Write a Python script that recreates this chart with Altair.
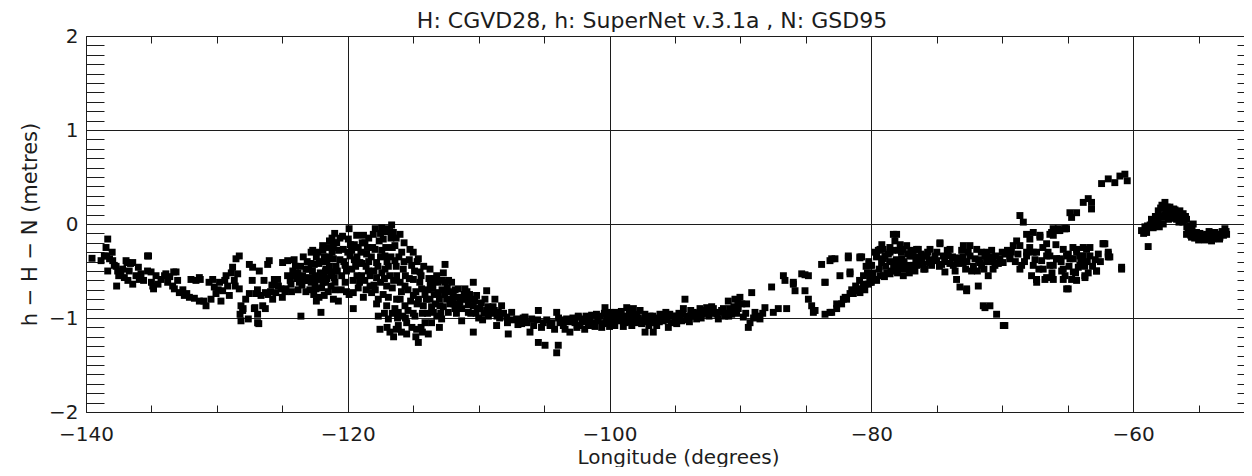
import altair as alt
import pandas as pd

# ---- data: (longitude in degrees, h - H - N in metres) ----
pacific = [(-139.54,-0.365),(-138.85,-0.39),(-138.34,-0.16),(-138.47,-0.25),(-138.6,-0.34),(-138.2,-0.37),
    (-138.34,-0.50),(-137.96,-0.39),(-137.84,-0.44),(-137.58,-0.50),(-137.66,-0.66),(-137.33,-0.53),
    (-137.07,-0.57),(-136.94,-0.39),(-136.43,-0.41),(-136.8,-0.60),(-136.7,-0.50),(-136.43,-0.64),
    (-136.18,-0.55),(-135.93,-0.59),(-135.8,-0.53),(-135.3,-0.34),(-135.3,-0.50),(-135.03,-0.51),
    (-134.9,-0.66),(-134.65,-0.55),(-134.27,-0.59),(-133.9,-0.53),(-133.76,-0.62),(-133.38,-0.66),
    (-133.12,-0.51),(-133.25,-0.69),(-132.87,-0.73),(-132.49,-0.76),(-132.1,-0.78),(-131.72,-0.79),
    (-131.34,-0.82),(-131.98,-0.59),(-131.34,-0.57),(-130.83,-0.87),(-130.45,-0.80),(-130.32,-0.59),
    (-130.2,-0.67),(-130.07,-0.74),(-129.8,-0.62),(-129.69,-0.82),(-129.56,-0.71),(-129.3,-0.55),
    (-129.18,-0.66),(-129.05,-0.76),(-128.8,-0.46),(-128.67,-0.60),(-128.54,-0.37),(-128.29,-0.34),
    (-128.41,-0.53),(-128.29,-0.69),(-128.16,-0.87),(-128.23,-0.96),(-128.16,-1.03),(-128.03,-0.92),
    (-138.0,-0.30),(-137.7,-0.45),(-137.2,-0.48),(-136.6,-0.42),(-136.0,-0.46),(-135.6,-0.60),
    (-135.0,-0.62),(-134.5,-0.64),(-134.0,-0.55),(-133.6,-0.56),(-133.0,-0.60),(-132.6,-0.70),
    (-132.3,-0.74),(-131.6,-0.60),(-131.0,-0.82),(-130.6,-0.62),(-129.9,-0.70),(-129.4,-0.60),
    (-128.9,-0.52),(-128.6,-0.66),(-138.42,-0.34),(-137.5,-0.55),(-136.87,-0.41),(-135.22,-0.34),
    (-134.84,-0.69),(-133.3,-0.51),(-131.27,-0.59)]

coast = [(-127.52,-0.43),(-127.52,-0.74),(-127.27,-0.46),(-127.14,-0.90),(-126.89,-1.05),(-126.89,-0.96),
    (-126.76,-0.50),(-126.63,-0.76),(-126.5,-0.87),(-126.12,-0.43),(-126.0,-0.39),(-125.74,-0.80),
    (-125.61,-0.59),(-125.36,-0.59),(-125.1,-0.69),(-124.98,-0.41),(-124.59,-0.39),(-124.72,-0.69),
    (-124.34,-0.64),(-124.08,-0.55),(-123.7,-0.62),(-123.58,-0.98),(-123.45,-0.55),(-123.2,-0.48),
    (-122.94,-0.57),(-122.68,-0.28),(-122.56,-0.43),(-122.43,-0.69),(-122.17,-0.59),(-122.05,-0.94),
    (-121.92,-0.23),(-121.8,-0.76),(-121.66,-0.48),(-121.41,-0.35),(-121.28,-0.66),(-121.03,-0.57),
    (-121.03,-0.20),(-124.0,-0.45),(-123.5,-0.65),(-123.0,-0.48),(-122.8,-0.62),(-122.5,-0.55),
    (-122.2,-0.42),(-122.0,-0.68),(-121.8,-0.35),(-121.6,-0.58),(-121.4,-0.45),(-121.2,-0.30),
    (-121.0,-0.70),(-122.6,-0.75),(-123.2,-0.72),(-121.5,-0.25),(-123.8,-0.70),(-124.4,-0.60),
    (-122.3,-0.30),(-121.7,-0.50),(-127.0,-0.74),(-126.3,-0.73),(-125.9,-0.72),(-125.5,-0.73),
    (-124.8,-0.72),(-124.2,-0.50),(-123.9,-0.58),(-123.6,-0.45),(-123.3,-0.60),(-123.1,-0.40),
    (-122.9,-0.70),(-122.7,-0.50),(-122.4,-0.35),(-122.1,-0.52),(-121.9,-0.62),(-121.6,-0.40),
    (-121.3,-0.55),(-121.1,-0.80),(-122.4,-0.82),(-121.5,-0.72),(-121.9,-0.28),(-128.0,-0.90),
    (-127.6,-1.01),(-126.8,-1.06),(-127.1,-0.89),(-126.3,-0.90),(-127.8,-0.80),(-127.3,-0.60),
    (-126.9,-0.70),(-126.4,-0.60),(-126.1,-0.75),(-125.8,-0.65),(-125.3,-0.66),(-125.0,-0.78),
    (-124.6,-0.55),(-124.3,-0.72),(-124.1,-0.38),(-123.8,-0.52),(-123.4,-0.35),(-123.0,-0.60),
    (-122.8,-0.42),(-122.6,-0.60),(-122.0,-0.40),(-121.8,-0.55)]

rockies = [(-120.85,-0.20),(-121.1,-0.37),(-121.23,-0.51),(-120.98,-0.62),(-120.72,-0.82),(-120.34,-0.27),
    (-120.21,-0.44),(-120.47,-0.55),(-119.96,-0.16),(-119.83,-0.34),(-119.7,-0.48),(-119.58,-0.73),
    (-119.58,-0.90),(-119.32,-0.12),(-119.2,-0.25),(-119.07,-0.41),(-118.94,-0.55),(-118.81,-0.78),
    (-118.69,-0.20),(-118.56,-0.32),(-118.43,-0.50),(-118.3,-0.66),(-118.18,-0.73),(-118.05,-0.11),
    (-117.92,-0.27),(-117.8,-0.41),(-117.8,-0.57),(-117.67,-0.80),(-117.67,-0.98),(-117.54,-1.12),
    (-117.41,-0.04),(-117.29,-0.16),(-117.16,-0.34),(-117.16,-0.48),(-117.03,-0.66),(-117.03,-0.87),
    (-116.9,-1.01),(-116.78,-1.15),(-116.65,-0.01),(-116.52,-0.09),(-116.4,-0.23),(-116.4,-0.39),
    (-116.27,-0.55),(-116.27,-0.80),(-116.14,-0.94),(-116.14,-1.08),(-116.01,-0.11),(-115.88,-0.30),
    (-115.76,-0.48),(-115.63,-0.66),(-115.63,-0.87),(-115.5,-1.05),(-115.5,-1.17),(-115.25,-0.27),
    (-115.12,-0.44),(-114.99,-0.59),(-114.99,-0.76),(-114.87,-0.98),(-114.74,-1.12),(-114.61,-1.26),
    (-114.61,-0.37),(-114.48,-0.51),(-114.36,-0.69),(-114.23,-0.87),(-114.1,-1.05),(-113.85,-1.17),
    (-113.72,-0.48),(-113.59,-0.62),(-113.72,-0.80),(-113.46,-0.94),(-113.21,-0.55),(-113.08,-0.73),
    (-112.96,-0.87),(-112.83,-1.01),(-112.57,-0.43),(-112.57,-0.62),(-112.45,-0.80),(-112.32,-0.94),
    (-112.07,-0.62),(-111.94,-0.76),(-111.81,-0.90),(-111.56,-0.69),(-111.43,-0.83),(-111.3,-1.03),
    (-111.05,-0.69),(-110.92,-0.80),(-110.79,-0.94),(-110.41,-0.62),(-110.41,-0.87),(-110.41,-1.15),
    (-110.16,-0.76),(-109.9,-0.90),(-109.52,-0.80),(-109.39,-0.71),(-109.26,-0.98),(-109.14,-0.90),
    (-108.76,-0.80),(-108.63,-1.08),(-108.5,-0.94),(-108.25,-0.87),(-107.86,-0.99),(-107.74,-1.17),
    (-107.48,-0.94),(-107.1,-1.01),(-106.72,-1.06),(-106.46,-0.99),(-106.08,-1.15),(-105.95,-1.01),
    (-105.44,-0.92),(-105.44,-1.26),(-105.06,-1.05),(-104.93,-1.29),(-104.55,-1.08),(-104.04,-0.94),
    (-104.04,-1.37),(-103.92,-1.29),(-103.79,-1.05),(-103.53,-1.08),(-103.28,-1.01),(-103.03,-1.15),
    (-102.64,-1.05),(-102.39,-0.98),(-121.2,-0.15),(-120.6,-0.38),(-120.9,-0.45),(-120.2,-0.62),
    (-120.0,-0.30),(-119.5,-0.22),(-119.4,-0.45),(-119.0,-0.30),(-118.8,-0.12),(-118.4,-0.40),
    (-118.0,-0.50),(-117.6,-0.18),(-117.5,-0.62),(-117.3,-0.75),(-116.8,-0.55),(-116.6,-0.25),
    (-116.0,-0.62),(-115.8,-0.98),(-116.4,-0.90),(-117.0,-1.10),(-116.5,-1.20),(-115.2,-0.82),
    (-114.8,-0.72),(-114.4,-1.10),(-113.9,-0.70),(-113.4,-0.75),(-112.8,-0.70),(-112.2,-0.85),
    (-111.7,-0.95),(-110.7,-0.75),(-110.0,-1.00),(-113.0,-1.10),(-119.9,-0.75),(-120.5,-0.70),
    (-118.6,-0.70),(-117.2,-0.95),(-121.0,-0.10),(-120.7,-0.28),(-120.4,-0.13),(-120.1,-0.50),
    (-119.8,-0.22),(-119.6,-0.60),(-119.3,-0.35),(-119.1,-0.62),(-118.9,-0.42),(-118.7,-0.60),
    (-118.5,-0.25),(-118.2,-0.35),(-118.0,-0.65),(-117.9,-0.05),(-117.7,-0.45),(-117.4,-0.28),
    (-117.2,-0.58),(-117.0,-0.40),(-116.9,-0.78),(-116.7,-0.15),(-116.6,-0.68),(-116.3,-0.45),
    (-116.2,-1.00),(-115.9,-0.72),(-115.7,-0.20),(-115.6,-0.55),(-115.4,-0.92),(-115.3,-0.38),
    (-115.1,-1.10),(-114.9,-0.50),(-114.7,-0.85),(-114.5,-0.62),(-114.3,-0.95),(-114.2,-0.45),
    (-114.0,-0.80),(-113.8,-0.58),(-113.6,-1.05),(-113.5,-0.68),(-113.3,-0.85),(-113.1,-0.62),
    (-112.9,-0.95),(-112.7,-0.52),(-112.6,-0.75),(-112.4,-0.68),(-112.1,-0.72),(-111.9,-0.85),
    (-111.6,-0.78),(-111.3,-0.90),(-111.1,-0.75),(-110.8,-0.86),(-110.6,-0.95),(-110.3,-0.82),
    (-110.1,-0.90),(-109.8,-0.84),(-109.6,-0.95),(-109.3,-0.88),(-109.0,-0.95),(-108.8,-0.92),
    (-108.4,-1.00),(-108.1,-0.95),(-107.8,-1.05),(-107.4,-1.02),(-107.0,-1.07),(-106.6,-1.00),
    (-106.3,-1.05),(-105.8,-1.08),(-105.5,-1.02),(-105.2,-1.10),(-104.8,-1.02),(-104.4,-1.05),
    (-104.2,-1.12),(-103.9,-1.00),(-103.6,-1.02),(-103.4,-1.12),(-103.1,-1.04),(-102.8,-1.00),
    (-102.5,-1.10),(-117.0,-0.05),(-116.8,-0.08),(-116.3,-0.15),(-117.5,-0.10),
    (-122.8,-0.30),(-122.5,-0.65),(-122.2,-0.78),(-121.7,-0.62),(-121.4,-0.18),(-121.1,-0.25),
    (-120.8,-0.50),(-120.6,-0.15),(-120.3,-0.40),(-120.1,-0.72),(-119.9,-0.05),(-119.7,-0.28),
    (-119.5,-0.38),(-119.3,-0.55),(-119.2,-0.68),(-118.9,-0.20),(-118.6,-0.45),(-118.4,-0.15),
    (-118.3,-0.55),(-118.1,-0.25),(-117.9,-0.70),(-117.8,-0.85),(-117.5,-0.35),(-117.4,-0.52),
    (-117.2,-0.08),(-117.1,-0.25),(-116.9,-0.45),(-116.7,-0.35),(-116.6,-0.95),(-116.5,-0.60),
    (-116.3,-1.12),(-116.1,-0.35),(-116.0,-0.80),(-115.9,-1.15),(-115.7,-0.40),(-115.6,-1.00),
    (-115.4,-0.70),(-115.3,-0.58),(-115.0,-0.30),(-115.0,-0.95),(-114.8,-1.20),(-114.7,-0.40),
    (-114.6,-0.80),(-114.4,-0.55),(-114.3,-1.15),(-114.1,-0.75),(-113.9,-0.95),(-113.7,-0.65),
    (-113.6,-0.88),(-113.4,-0.58),(-113.2,-0.98),(-113.0,-0.80),(-112.8,-0.60),(-112.7,-0.88),
    (-112.5,-0.72),(-112.3,-0.60),(-112.0,-0.80),(-111.8,-0.70),(-111.5,-0.88),(-111.2,-0.80),
    (-110.9,-0.72),(-110.5,-0.80),(-110.2,-0.95),(-109.7,-1.02),(-109.4,-0.92),(-108.9,-0.88),
    (-108.6,-0.98)]

prairies = [(-102.39,-0.99),(-102.26,-1.08),(-102.0,-1.01),(-101.62,-1.06),(-101.37,-0.97),(-101.11,-1.09),
    (-100.86,-1.03),(-100.48,-1.06),(-100.35,-0.89),(-100.22,-0.99),(-99.97,-0.94),(-99.71,-1.05),
    (-99.46,-0.99),(-99.2,-0.96),(-98.95,-1.09),(-98.69,-0.89),(-98.57,-1.01),(-98.18,-0.90),
    (-98.06,-1.01),(-97.67,-0.92),(-97.55,-1.06),(-97.29,-1.15),(-97.17,-0.99),(-96.91,-0.98),
    (-96.66,-1.15),(-96.53,-1.05),(-96.15,-0.96),(-95.9,-1.03),(-95.51,-1.10),(-95.13,-0.98),
    (-94.87,-1.06),(-94.62,-0.99),(-94.36,-0.90),(-94.24,-0.80),(-93.98,-0.98),(-93.6,-0.94),
    (-93.35,-1.01),(-93.09,-0.90),(-92.58,-0.89),(-92.07,-0.90),(-91.69,-1.01),(-91.44,-0.92),
    (-90.93,-0.82),(-90.67,-0.96),(-90.42,-0.80),(-90.17,-0.90),(-90.04,-0.78),(-89.78,-0.99),
    (-89.53,-0.85),(-89.4,-1.10),(-89.27,-1.05),(-89.14,-0.73),(-88.89,-0.94),(-88.51,-1.01),
    (-88.13,-0.89),(-87.62,-0.67),(-87.49,-0.94),(-87.11,-0.90),(-86.72,-0.55),(-86.6,-0.60),
    (-86.47,-0.90),(-85.96,-0.62),(-85.83,-0.71),(-85.32,-0.53),(-85.07,-0.71),(-84.81,-0.55),
    (-84.81,-0.80),(-84.56,-0.87),(-84.3,-0.92),(-83.8,-0.43),(-83.54,-0.96),(-83.54,-0.62),
    (-83.16,-0.39),(-83.03,-0.94),(-82.78,-0.37),(-82.65,-0.90),(-82.4,-0.55),(-82.27,-0.85),
    (-81.89,-0.80),(-81.76,-0.36),(-81.63,-0.51),(-81.38,-0.74),(-80.87,-0.36),(-80.87,-0.69),
    (-80.48,-0.64),(-80.1,-0.44),(-80.1,-0.59),(-101.9,-1.12),(-101.0,-0.96),(-100.0,-1.09),
    (-99.0,-1.02),(-98.3,-1.08),(-97.9,-0.96),(-97.0,-1.08),(-96.3,-1.00),(-95.7,-0.94),
    (-95.3,-1.05),(-94.5,-1.03),(-93.8,-0.92),(-92.9,-0.96),(-92.3,-0.93),(-91.0,-0.95),(-90.5,-0.88),
    (-82.0,-0.78),(-81.5,-0.70),(-81.2,-0.66),(-80.9,-0.60),(-80.6,-0.55),(-80.3,-0.52),
    (-102.1,-1.04),(-101.8,-0.98),(-101.5,-1.02),(-101.2,-1.05),(-100.7,-0.98),(-100.6,-1.10),
    (-100.1,-1.03),(-99.8,-0.98),(-99.6,-1.08),(-99.3,-1.03),(-99.1,-0.93),(-98.8,-1.05),
    (-98.4,-0.95),(-98.0,-1.05),(-97.8,-1.00),(-97.4,-1.02),(-96.8,-1.02),(-96.4,-1.08),
    (-96.0,-1.00),(-95.6,-1.02),(-95.0,-1.02),(-94.7,-0.95),(-94.1,-1.02),(-93.7,-0.98),
    (-93.2,-0.95),(-92.8,-0.92),(-92.4,-0.98),(-92.0,-0.95),(-91.6,-0.94),(-91.2,-0.98),
    (-90.8,-0.90),(-90.3,-0.95),(-89.9,-0.85),(-89.6,-0.95),(-89.0,-1.00),(-88.7,-0.98),(-88.3,-0.95),
    (-85.07,-0.54),(-83.54,-0.62),(-81.63,-0.53),(-85.96,-0.64),(-84.43,-0.94),(-83.16,-0.94),
    (-82.65,-0.85),(-82.14,-0.80),(-81.63,-0.74),(-81.12,-0.71),(-80.61,-0.66),(-83.03,-0.37),
    (-81.76,-0.34),(-80.87,-0.35),(-101.7,-1.00),(-101.4,-1.08),(-100.9,-1.00),(-100.4,-0.95),
    (-100.3,-1.05),(-99.9,-1.02),(-99.5,-0.94),(-99.0,-0.98),(-98.7,-1.04),(-98.5,-0.96),
    (-98.2,-1.02),(-97.7,-1.03),(-97.3,-0.96),(-97.1,-1.04),(-96.7,-0.98),(-96.2,-1.04),
    (-95.8,-0.98),(-95.4,-0.96),(-94.9,-0.98),(-94.4,-0.96),(-93.9,-1.04),(-93.5,-0.98),
    (-93.0,-1.00),(-92.6,-0.94),(-92.2,-0.88),(-91.8,-0.96),(-91.3,-0.90),(-90.9,-0.98),
    (-90.6,-0.92),(-90.2,-0.84)]

east = [(-80.87,-0.73),(-80.62,-0.66),(-80.74,-0.35),(-80.23,-0.64),(-79.98,-0.44),(-79.85,-0.59),
    (-79.47,-0.28),(-79.34,-0.55),(-79.22,-0.41),(-78.96,-0.34),(-78.83,-0.52),(-78.58,-0.25),
    (-78.32,-0.11),(-78.2,-0.18),(-78.07,-0.48),(-77.94,-0.28),(-77.69,-0.37),(-77.56,-0.55),
    (-77.3,-0.23),(-77.05,-0.44),(-76.92,-0.34),(-76.67,-0.50),(-76.41,-0.27),(-76.16,-0.39),
    (-75.9,-0.48),(-75.78,-0.34),(-75.4,-0.44),(-75.14,-0.34),(-74.76,-0.20),(-74.63,-0.43),
    (-74.38,-0.51),(-74.12,-0.34),(-73.74,-0.44),(-73.49,-0.59),(-73.23,-0.67),(-73.1,-0.28),
    (-72.98,-0.41),(-72.72,-0.71),(-72.47,-0.23),(-72.34,-0.50),(-72.08,-0.37),(-71.83,-0.66),
    (-71.58,-0.44),(-71.32,-0.34),(-71.32,-0.89),(-71.07,-0.55),(-70.94,-0.87),(-70.81,-0.28),
    (-70.56,-0.44),(-70.43,-0.96),(-70.18,-0.37),(-69.92,-1.08),(-69.79,-0.32),(-69.41,-0.37),
    (-69.16,-0.23),(-68.9,-0.18),(-68.65,0.09),(-68.39,0.02),(-68.52,-0.44),(-68.14,-0.11),
    (-68.14,-0.30),(-67.76,-0.55),(-67.63,-0.09),(-67.63,-0.30),(-67.37,-0.62),(-67.12,-0.14),
    (-66.99,-0.39),(-66.74,-0.59),(-66.61,-0.21),(-66.36,-0.44),(-66.23,-0.09),(-66.1,-0.59),
    (-65.85,-0.37),(-65.72,-0.07),(-65.46,-0.50),(-65.21,-0.05),(-65.08,-0.69),(-64.95,-0.32),
    (-64.7,-0.59),(-64.57,-0.37),(-64.32,-0.27),(-64.19,-0.46),(-63.81,-0.34),(-63.68,-0.57),
    (-63.43,-0.52),(-63.3,-0.25),(-62.79,-0.50),(-62.66,-0.32),(-62.16,-0.21),(-61.9,-0.35),
    (-80.5,-0.70),(-80.0,-0.62),(-79.6,-0.60),(-79.0,-0.56),(-78.5,-0.50),(-78.0,-0.52),
    (-77.4,-0.47),(-76.8,-0.44),(-76.3,-0.42),(-75.6,-0.40),(-79.6,-0.35),(-79.1,-0.27),
    (-78.6,-0.40),(-77.8,-0.22),(-77.0,-0.28),(-76.5,-0.35),(-74.0,-0.42),(-73.5,-0.36),
    (-72.7,-0.40),(-71.8,-0.38),(-71.0,-0.40),(-70.5,-0.34),(-66.1,-0.12),(-65.34,-0.27),
    (-63.81,-0.25),(-66.36,-0.34),(-65.6,-0.37),(-64.83,-0.37),(-64.07,-0.34),
    (-80.1,-0.62),(-79.6,-0.59),(-79.08,-0.55),(-78.57,-0.53),(-78.07,-0.50),(-77.56,-0.48),
    (-77.05,-0.46),(-76.54,-0.44),(-76.03,-0.43),(-75.52,-0.41),(-75.01,-0.39),(-79.34,-0.27),
    (-79.08,-0.37),(-78.57,-0.30),(-77.56,-0.27),(-77.05,-0.34),(-76.54,-0.27),(-76.03,-0.34),
    (-75.52,-0.27),(-74.76,-0.21),(-74.5,-0.34),(-73.99,-0.27),(-73.48,-0.37),(-72.97,-0.23),
    (-72.72,-0.69),(-72.46,-0.34),(-71.95,-0.27),(-71.7,-0.41),(-71.45,-0.87),(-71.19,-0.30),
    (-70.68,-0.37),(-79.6,-0.34),(-78.07,-0.11),(-68.65,-0.23),(-67.89,-0.16),(-67.12,-0.12),
    (-66.36,-0.11),(-65.6,-0.07),(-65.09,-0.05),(-68.14,-0.34),(-67.38,-0.30),(-66.61,-0.34),
    (-65.85,-0.37),(-65.09,-0.34),(-64.32,-0.30),(-63.56,-0.27),(-67.63,-0.44),(-66.87,-0.48),
    (-66.1,-0.44),(-65.34,-0.48),(-64.57,-0.51),(-67.38,-0.59),(-66.61,-0.57),(-65.34,-0.59),
    (-64.96,-0.69),(-64.32,-0.60),(-63.69,-0.55),(-62.8,-0.50),(-64.07,-0.44),(-63.3,-0.34),
    (-62.29,-0.21),(-61.9,-0.32),(-60.88,-0.48),(-69.8,-1.08),(-68.65,-0.48),(-69.42,-0.34),
    (-69.93,-0.41),(-80.4,-0.45),(-80.2,-0.40),(-79.9,-0.52),(-79.7,-0.30),(-79.4,-0.48),
    (-79.2,-0.22),(-78.9,-0.45),(-78.7,-0.32),(-78.4,-0.28),(-78.3,-0.45),(-78.1,-0.38),
    (-77.9,-0.42),(-77.7,-0.30),(-77.5,-0.40),(-77.2,-0.32),(-77.1,-0.52),(-76.8,-0.30),
    (-76.6,-0.40),(-76.2,-0.32),(-76.0,-0.48),(-75.7,-0.30),(-75.3,-0.38),(-75.0,-0.30),
    (-74.8,-0.45),(-74.4,-0.40),(-74.2,-0.28),(-73.8,-0.35),(-73.6,-0.50),(-73.3,-0.42),
    (-73.0,-0.35),(-72.8,-0.48),(-72.6,-0.30),(-72.2,-0.45),(-71.9,-0.50),(-71.6,-0.30),
    (-71.4,-0.48),(-71.2,-0.40),(-70.9,-0.35),(-70.7,-0.48),(-70.3,-0.42),(-70.0,-0.30),
    (-69.6,-0.28),(-69.3,-0.30),(-69.0,-0.40),(-68.8,-0.32),(-68.3,-0.40),(-67.9,-0.25),
    (-67.5,-0.38),(-67.2,-0.48),(-66.9,-0.25),(-66.5,-0.30),(-66.2,-0.52),(-65.9,-0.22),
    (-65.5,-0.40),(-65.2,-0.55),(-64.9,-0.45),(-64.6,-0.25),(-64.4,-0.52),(-64.0,-0.40),
    (-63.7,-0.45),(-63.5,-0.40),(-63.1,-0.45),(-62.9,-0.38),(-62.5,-0.40)]

atlantic = [(-64.83,0.12),(-64.7,0.07),(-64.32,0.12),(-63.81,0.23),(-63.43,0.27),(-63.18,0.23),
    (-63.18,0.16),(-62.41,0.43),(-61.9,0.48),(-61.4,0.44),(-61.01,0.51),(-60.63,0.53),(-60.45,0.46),
    (-66.11,-0.05),(-65.72,-0.05),(-65.21,-0.05),(-62.29,-0.21),(-61.9,-0.30),(-61.78,-0.35),(-60.88,-0.46),
    (-59.36,-0.07),(-58.97,-0.09),(-58.85,-0.24),(-58.47,-0.04),(-58.21,0.02),(-58.08,0.14),(-57.83,0.07),
    (-57.57,0.23),(-57.45,0.12),(-57.19,0.18),(-56.94,0.09),(-56.68,0.05),(-56.43,0.14),(-56.18,0.11),
    (-55.92,0.05),(-55.67,-0.02),(-55.92,-0.11),(-55.54,-0.14),(-55.16,-0.09),(-54.77,-0.14),
    (-54.39,-0.11),(-54.01,-0.18),(-53.75,-0.09),(-53.37,-0.14),(-52.99,-0.05),(-52.86,-0.11),
    (-57.7,0.00),(-55.41,0.00),(-58.6,0.05),(-58.0,-0.03),(-57.3,0.05),(-56.8,0.15),(-56.2,0.02),
    (-55.8,-0.08),(-55.3,-0.15),(-54.9,-0.10),(-54.5,-0.17),(-54.2,-0.08),(-53.6,-0.15),(-53.2,-0.08),
    (-57.9,0.17),(-57.0,0.12),(-59.1,-0.03),(-59.0,-0.06),(-58.7,-0.01),(-58.3,0.08),(-58.1,0.02),
    (-57.8,0.20),(-57.6,0.10),(-57.4,0.18),(-57.1,0.06),(-56.9,0.16),(-56.6,0.10),(-56.3,0.06),
    (-56.0,0.08),(-55.7,-0.10),(-55.5,-0.05),(-55.2,-0.13),(-55.0,-0.17),(-54.6,-0.12),(-54.3,-0.14),
    (-54.1,-0.12),(-53.9,-0.16),(-53.5,-0.11),(-53.1,-0.12),(-52.9,-0.08),(-59.2,-0.10),(-58.9,-0.02),
    (-58.4,0.00),(-57.9,0.08),(-57.5,0.15),(-57.2,0.10),(-56.7,0.12),(-56.5,0.02),(-56.1,0.04),
    (-55.9,-0.03),(-55.6,-0.12),(-55.1,-0.11),(-54.8,-0.16),(-54.4,-0.15),(-53.8,-0.12),(-53.4,-0.16),
    (-53.0,-0.10)]

# ---- axis ticks ----
x_major = [-120, -100, -80, -60]
x_minor = [-140, -135, -130, -125, -120, -115, -110, -105, -100, -95, -90, -85,
           -80, -75, -70, -65, -60, -55]
y_major = [-1, 0, 1]
y_minor = [round(-2 + 0.1 * i, 1) for i in range(41)]

points = pacific + coast + rockies + prairies + east + atlantic
df = pd.DataFrame(points, columns=["lon", "dh"])

INK = "#1c1c1c"
FONT = "DejaVu Sans"
W, H = 1158, 376

xscale = alt.Scale(domain=[-140, -51.53], nice=False, zero=False)
yscale = alt.Scale(domain=[-2, 2], nice=False, zero=False)

marks = alt.Chart().mark_square(size=48, color="black", opacity=1).encode(
    x=alt.X("lon:Q", scale=xscale, axis=alt.Axis(
        orient="bottom", values=x_minor,
        labelExpr="datum.value % 20 == 0 ? datum.label : ''",
        grid=True, gridDash=[7, 362], gridColor=INK, gridOpacity=1, gridWidth=1,
        ticks=False, domain=True, domainColor=INK, domainWidth=1,
        labelFont=FONT, labelFontSize=20, labelColor=INK, labelPadding=12,
        labelFlush=False, labelOverlap=False,
        title="Longitude (degrees)", titleFont=FONT, titleFontSize=20,
        titleFontWeight="normal", titleColor=INK, titlePadding=3, titleX=592)),
    y=alt.Y("dh:Q", scale=yscale, axis=alt.Axis(
        orient="left", values=y_minor,
        labelExpr="abs(datum.value - round(datum.value)) < 0.001 ? format(datum.value, 'd') : ''",
        grid=True, gridDash=[18, W - 25], gridColor=INK, gridOpacity=1, gridWidth=1,
        ticks=False, domain=True, domainColor=INK, domainWidth=1,
        labelFont=FONT, labelFontSize=20, labelColor=INK, labelPadding=8,
        labelOverlap=False, labelFlush=False,
        title="h − H − N (metres)", titleFont=FONT, titleFontSize=21,
        titleFontWeight="normal", titleColor=INK, titlePadding=8)),
)

frame = alt.Chart().mark_square(size=1, opacity=0).encode(
    x=alt.X("lon:Q", scale=xscale, axis=alt.Axis(
        orient="top", values=x_major, grid=True, gridColor=INK, gridOpacity=1, gridWidth=1,
        labels=False, ticks=False, domain=True, domainColor=INK, domainWidth=1, title=None)),
    y=alt.Y("dh:Q", scale=yscale, axis=alt.Axis(
        orient="right", values=y_major, grid=True, gridColor=INK, gridOpacity=1, gridWidth=1,
        labels=False, ticks=False, domain=False, title=None)),
)

chart = alt.layer(frame, marks, data=df).properties(
    width=W, height=H,
    padding={"left": 11, "top": 2, "right": 0, "bottom": 0},
    title=alt.TitleParams(
        text="H: CGVD28, h: SuperNet v.3.1a , N: GSD95",
        font=FONT, fontSize=22, fontWeight="normal", color=INK,
        anchor="middle", offset=-7, dx=-13),
).configure_view(strokeWidth=0)

chart.save("out.html", embed_options={"renderer": "svg", "actions": False})
